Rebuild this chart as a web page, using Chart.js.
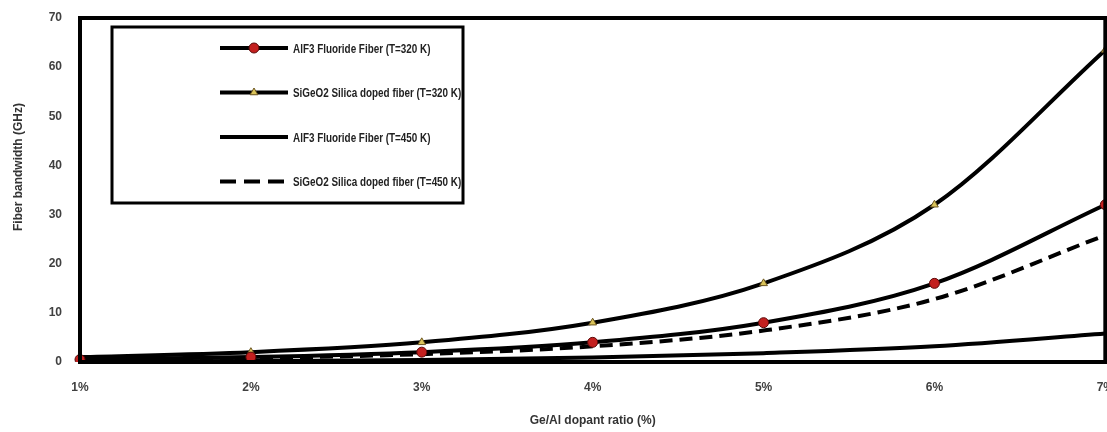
<!DOCTYPE html>
<html>
<head>
<meta charset="utf-8">
<script src="https://cdn.jsdelivr.net/npm/chart.js@4.4.1/dist/chart.umd.min.js"></script>
<style>
  html, body { margin:0; padding:0; background:#fff; overflow:hidden; }
  #wrap { width:1124px; height:432px; }
</style>
</head>
<body>
<div id="wrap"><canvas id="bwChart" width="1124" height="432"></canvas></div>
<script>
// Datos
const CATEGORIES = ["1%", "2%", "3%", "4%", "5%", "6%", "7%"];
const ALF3_320   = [0.5, 1, 2, 4, 8, 16, 32];
const SIGEO2_320 = [1, 2, 4, 8, 16, 32, 63.5];
const ALF3_450   = [0.1, 0.2, 0.4, 0.9, 1.8, 3.2, 5.8];
const SIGEO2_450 = [0.4, 0.8, 1.6, 3.2, 6.4, 12.8, 25.8];
const SERIES_LABELS = [
  "AlF3 Fluoride Fiber (T=320 K)",
  "SiGeO2 Silica doped fiber (T=320 K)",
  "AlF3 Fluoride Fiber (T=450 K)",
  "SiGeO2 Silica doped fiber (T=450 K)"
];
const Y_MIN = 0, Y_MAX = 70, Y_STEP = 10;
const X_TITLE = "Ge/Al dopant ratio (%)";
const Y_TITLE = "Fiber bandwidth (GHz)";

const FONT = "Arial, 'Liberation Sans', sans-serif";

// Marco grueso alrededor del área del gráfico
const framePlugin = {
  id: "frame",
  afterDatasetsDraw(chart){
    const {ctx, chartArea:a} = chart;
    ctx.save();
    ctx.strokeStyle = "#000";
    ctx.lineWidth = 4;
    ctx.strokeRect(a.left, a.top, a.right - a.left, a.bottom - a.top);
    ctx.restore();
  }
};

// Leyenda dentro del gráfico, con borde
const boxLegend = {
  id: "boxLegend",
  afterDraw(chart){
    const {ctx} = chart;
    const x0 = 112, y0 = 27, w = 351, h = 176;
    ctx.save();
    ctx.fillStyle = "#fff";
    ctx.fillRect(x0, y0, w, h);
    ctx.strokeStyle = "#000";
    ctx.lineWidth = 3;
    ctx.strokeRect(x0, y0, w, h);
    chart.data.datasets.forEach((ds, i)=>{
      const y = 48 + i * 44.5;
      ctx.strokeStyle = ds.borderColor;
      ctx.lineWidth = ds.borderWidth;
      ctx.setLineDash(ds.borderDash ? [16, 8] : []);
      ctx.beginPath();
      ctx.moveTo(220, y);
      ctx.lineTo(288, y);
      ctx.stroke();
      ctx.setLineDash([]);
      if(ds.pointRadius > 0){
        ctx.fillStyle = ds.pointBackgroundColor;
        ctx.strokeStyle = ds.pointBorderColor;
        ctx.lineWidth = 1;
        Chart.helpers.drawPoint(ctx, {pointStyle: ds.pointStyle, radius: ds.pointRadius, borderWidth: 1}, 254, y);
      }
      // texto algo comprimido, como en la figura original
      ctx.save();
      ctx.translate(293, y + 1);
      ctx.scale(0.76, 1);
      ctx.fillStyle = "#222";
      ctx.font = "bold 13px " + FONT;
      ctx.textAlign = "left";
      ctx.textBaseline = "middle";
      ctx.fillText(ds.label, 0, 0);
      ctx.restore();
    });
    ctx.restore();
  }
};

// Título del eje Y (desplazado hacia arriba como en el original)
const yTitlePlugin = {
  id: "yTitle",
  afterDraw(chart){
    const {ctx} = chart;
    ctx.save();
    ctx.translate(19, 167);
    ctx.rotate(-Math.PI / 2);
    ctx.fillStyle = "#333";
    ctx.font = "bold 12px " + FONT;
    ctx.textAlign = "center";
    ctx.textBaseline = "middle";
    ctx.fillText(Y_TITLE, 0, 0);
    ctx.restore();
  }
};

const ctx = document.getElementById("bwChart");
new Chart(ctx, {
  type: "line",
  data: {
    labels: CATEGORIES,
    datasets: [
      {
        label: SERIES_LABELS[0], data: ALF3_320,
        borderColor: "#000", borderWidth: 4, cubicInterpolationMode: "monotone",
        pointStyle: "circle", pointRadius: 5,
        pointBackgroundColor: "#c3201f", pointBorderColor: "#5a0a0a", pointBorderWidth: 1
      },
      {
        label: SERIES_LABELS[1], data: SIGEO2_320,
        borderColor: "#000", borderWidth: 4, cubicInterpolationMode: "monotone",
        pointStyle: "triangle", pointRadius: 4.5,
        pointBackgroundColor: "#d9c35a", pointBorderColor: "#6b5520", pointBorderWidth: 1
      },
      {
        label: SERIES_LABELS[2], data: ALF3_450,
        borderColor: "#000", borderWidth: 4, cubicInterpolationMode: "monotone",
        pointRadius: 0
      },
      {
        label: SERIES_LABELS[3], data: SIGEO2_450,
        borderColor: "#000", borderWidth: 4, cubicInterpolationMode: "monotone",
        borderDash: [13, 7], pointRadius: 0
      }
    ]
  },
  options: {
    responsive: false,
    animation: false,
    layout: { padding: { top: 18, right: 0, bottom: 0, left: 0 } },
    scales: {
      x: {
        offset: false,
        grid: { display: false },
        border: { display: false },
        ticks: {
          color: "#404040", padding: 10, maxRotation: 0, autoSkip: false,
          font: { family: FONT, size: 12, weight: "bold" }
        },
        title: {
          display: true, text: X_TITLE, color: "#333",
          font: { family: FONT, size: 12, weight: "bold" },
          padding: { top: 0, bottom: 4 }
        },
        afterFit(scale){ scale.height = 70; }
      },
      y: {
        min: Y_MIN, max: Y_MAX,
        grid: { display: false },
        border: { display: false },
        ticks: {
          stepSize: Y_STEP, color: "#404040", padding: 10,
          font: { family: FONT, size: 12, weight: "bold" }
        },
        afterFit(scale){ scale.width = 80; }
      }
    },
    plugins: {
      legend: { display: false },
      tooltip: { enabled: false }
    }
  },
  plugins: [framePlugin, boxLegend, yTitlePlugin]
});
</script>
</body>
</html>
